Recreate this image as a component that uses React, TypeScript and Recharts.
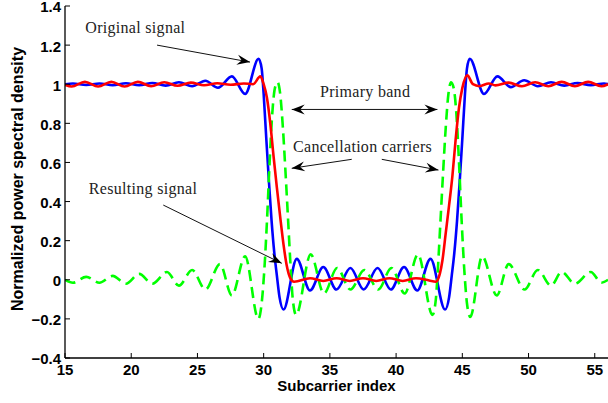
import React from 'react';
import { LineChart, Line, XAxis, YAxis, ReferenceLine, ReferenceDot } from 'recharts';

// ---------- data ----------
const xTicks = [15, 20, 25, 30, 35, 40, 45, 50, 55];
const yTicks = [-0.4, -0.2, 0, 0.2, 0.4, 0.6, 0.8, 1, 1.2, 1.4];

const originalX = [15, 15.6, 16.6, 17.6, 18.6, 19.6, 20.6, 21.6, 22.6, 23.6, 24.6, 25.6, 26.55, 27.6, 28.6, 29.62, 29.85, 30.0, 30.2, 30.4, 30.6, 30.8, 31.0, 31.2, 31.5, 32.5, 33.5, 34.5, 35.5, 36.55, 37.55, 38.6, 39.6, 40.6, 41.6, 42.6, 43.7, 44.0, 44.2, 44.4, 44.6, 44.8, 45.0, 45.2, 45.35, 45.56, 46.64, 47.65, 48.66, 49.67, 50.7, 51.7, 52.7, 53.7, 54.7, 55.7, 56];
const originalY = [1.0, 1.004, 0.996, 1.004, 0.995, 1.005, 0.995, 1.006, 0.993, 1.01, 0.99, 1.018, 0.982, 1.04, 0.95, 1.13, 1.08, 0.95, 0.72, 0.5, 0.3, 0.14, 0.02, -0.09, -0.152, 0.107, -0.055, 0.065, -0.05, 0.06, -0.05, 0.06, -0.05, 0.065, -0.055, 0.107, -0.152, -0.09, 0.02, 0.14, 0.3, 0.5, 0.72, 0.95, 1.08, 1.13, 0.95, 1.04, 0.985, 1.02, 0.99, 1.01, 0.993, 1.006, 0.995, 1.004, 1.0];

const cancelX = [15, 15.6, 16.6, 17.6, 18.6, 19.6, 20.6, 21.6, 22.7, 23.6, 24.6, 25.6, 26.7, 27.6, 28.6, 29.6, 29.85, 30.05, 30.25, 30.45, 30.65, 30.85, 31.05, 31.25, 31.45, 31.65, 31.85, 32.05, 32.2, 32.45, 33.55, 34.55, 35.55, 36.55, 37.6, 38.65, 39.65, 40.65, 41.65, 42.75, 43.0, 43.15, 43.35, 43.55, 43.75, 43.95, 44.15, 44.35, 44.55, 44.75, 44.95, 45.15, 45.35, 45.6, 46.5, 47.6, 48.5, 49.7, 50.7, 51.7, 52.5, 53.5, 54.7, 55.5, 56];
const cancelY = [0.0, -0.015, 0.015, -0.015, 0.02, -0.02, 0.03, -0.02, 0.04, -0.03, 0.05, -0.05, 0.08, -0.08, 0.12, -0.2, -0.12, 0.05, 0.3, 0.6, 0.85, 0.98, 1.01, 0.95, 0.78, 0.55, 0.3, 0.05, -0.1, -0.18, 0.13, -0.07, 0.06, -0.05, 0.05, -0.05, 0.06, -0.07, 0.13, -0.18, -0.1, 0.05, 0.3, 0.55, 0.78, 0.95, 1.01, 0.98, 0.85, 0.6, 0.3, 0.05, -0.12, -0.19, 0.12, -0.08, 0.08, -0.05, 0.05, -0.03, 0.04, -0.02, 0.04, -0.015, 0.0];

const resultX = [15, 15.5, 16.5, 17.5, 18.5, 19.5, 20.5, 21.5, 22.5, 23.5, 24.5, 25.5, 26.5, 27.5, 28.5, 29.2, 29.75, 30.0, 30.25, 30.5, 30.75, 31.0, 31.25, 31.5, 31.75, 32.0, 32.3, 33.5, 34.5, 35.5, 36.5, 37.5, 38.5, 39.5, 40.5, 41.5, 42.5, 43.0, 43.3, 43.5, 43.75, 44.0, 44.25, 44.5, 44.75, 45.0, 45.38, 45.8, 46.3, 47.0, 47.5, 48.5, 49.5, 50.5, 51.5, 52.5, 53.5, 54.5, 55.5, 56];
const resultY = [0.997, 0.988, 1.012, 0.988, 1.012, 0.988, 1.012, 0.99, 1.01, 0.992, 1.008, 0.995, 1.005, 0.997, 1.004, 1.0, 1.04, 1.0, 0.93, 0.8, 0.63, 0.47, 0.32, 0.18, 0.07, 0.01, -0.01, 0.008, -0.006, 0.008, -0.006, 0.008, -0.006, 0.008, -0.006, 0.008, -0.004, -0.01, 0.03, 0.1, 0.24, 0.38, 0.53, 0.72, 0.88, 0.98, 1.045, 1.0, 0.99, 1.004, 0.994, 1.008, 0.99, 1.01, 0.99, 1.012, 0.99, 1.012, 0.99, 1.0];

// annotation anchors (data coordinates)
const noteLabels = ['Original signal', 'Primary band', 'Cancellation carriers', 'Resulting signal'];
const noteX = [20.31, 37.66, 37.47, 20.89];
const noteY = [1.26, 0.933, 0.655, 0.439];

// arrows: [x1, y1, x2(tip), y2(tip), doubleHeaded]
const arrows: [number, number, number, number, boolean][] = [
  [21.95, 1.2, 28.97, 1.113, false],
  [32.12, 0.871, 43.12, 0.871, true],
  [36.65, 0.616, 32.12, 0.57, false],
  [38.92, 0.616, 43.2, 0.561, false],
  [22.42, 0.382, 31.37, 0.084, false],
];

const toPts = (xs: number[], ys: number[]) => xs.map((x, i) => ({ x, y: ys[i] }));
const originalData = toPts(originalX, originalY);
const cancelData = toPts(cancelX, cancelY);
const resultData = toPts(resultX, resultY);

// ---------- styling ----------
const TICK_LEN = 5;
const TICK_FONT = { fontFamily: '"Liberation Sans", Arial, sans-serif', fontWeight: 700, fontSize: 15, fill: '#000' };
const YLABEL_FONT = { ...TICK_FONT, fontSize: 16 };
const NOTE_FONT = { fontFamily: '"Liberation Serif", "Times New Roman", serif', fontSize: 16, fill: '#222', letterSpacing: 0.3 };

const fmtY = (v: number) => {
  if (Math.abs(v) < 1e-9) return '0';
  const s = String(Math.round(Math.abs(v) * 10) / 10);
  return v < 0 ? '\u2212' + s : s;
};

const X_MARGIN = 6;
const Y_MARGIN = 4;

const BottomTick = (p: any) => {
  const { x, y, payload } = p;
  const ay = y - X_MARGIN;
  return (
    <g>
      <line x1={x} y1={ay} x2={x} y2={ay - TICK_LEN} stroke="#000" strokeWidth={1} />
      <text x={x} y={y} dy="0.71em" textAnchor="middle" style={TICK_FONT}>{payload.value}</text>
    </g>
  );
};

const LeftTick = (p: any) => {
  const { x, y, payload } = p;
  const ax = x + Y_MARGIN;
  return (
    <g>
      <line x1={ax} y1={y} x2={ax + TICK_LEN} y2={y} stroke="#000" strokeWidth={1} />
      <text x={x} y={y} dy="0.43em" textAnchor="end" style={TICK_FONT}>{fmtY(payload.value)}</text>
    </g>
  );
};

const TopTick = (p: any) => {
  const { x, y } = p;
  return <line x1={x} y1={y} x2={x} y2={y + TICK_LEN} stroke="#000" strokeWidth={1} />;
};

const RightTick = (p: any) => {
  const { x, y } = p;
  return <line x1={x} y1={y} x2={x - TICK_LEN} y2={y} stroke="#000" strokeWidth={1} />;
};

const head = (tx: number, ty: number, fx: number, fy: number) => {
  const dx = tx - fx;
  const dy = ty - fy;
  const len = Math.sqrt(dx * dx + dy * dy) || 1;
  const ux = dx / len;
  const uy = dy / len;
  const nx = -uy;
  const ny = ux;
  const L = 13;
  const W = 5;
  const bx = tx - L * ux;
  const by = ty - L * uy;
  const mx = tx - 0.65 * L * ux;
  const my = ty - 0.65 * L * uy;
  return `M${tx},${ty} L${bx + W * nx},${by + W * ny} L${mx},${my} L${bx - W * nx},${by - W * ny} Z`;
};

const makeArrow = (both: boolean) => (p: any) => {
  const { x1, y1, x2, y2 } = p;
  return (
    <g>
      <line x1={x1} y1={y1} x2={x2} y2={y2} stroke="#111" strokeWidth={1} />
      <path d={head(x2, y2, x1, y1)} fill="#000" />
      {both ? <path d={head(x1, y1, x2, y2)} fill="#000" /> : null}
    </g>
  );
};

const makeNote = (text: string) => (p: any) => (
  <text x={p.cx} y={p.cy} textAnchor="middle" style={NOTE_FONT}>{text}</text>
);

export default function App() {
  return (
    <div style={{ position: 'absolute', left: 0, top: 0, width: 608, height: 403, background: '#fff' }}>
      <LineChart width={608} height={403} margin={{ top: 6, right: 0, bottom: 0, left: 0 }}>
        <XAxis
          dataKey="x"
          type="number"
          domain={[15, 56]}
          ticks={xTicks}
          allowDataOverflow
          height={45}
          tickSize={0}
          tickMargin={X_MARGIN}
          tickLine={false}
          tick={<BottomTick />}
          axisLine={{ stroke: '#000', strokeWidth: 1.3 }}
          interval={0}
          label={{
            content: (lp: any) => {
              const vb = lp.viewBox;
              return (
                <text x={vb.x + vb.width / 2} y={vb.y + 33} textAnchor="middle" style={TICK_FONT}>
                  Subcarrier index
                </text>
              );
            },
          }}
        />
        <XAxis
          xAxisId="top"
          orientation="top"
          type="number"
          domain={[15, 56]}
          ticks={xTicks}
          height={0}
          tickSize={0}
          tickMargin={0}
          tickLine={false}
          tick={<TopTick />}
          axisLine={{ stroke: '#000', strokeWidth: 1.3 }}
          interval={0}
        />
        <YAxis
          type="number"
          domain={[-0.4, 1.4]}
          ticks={yTicks}
          allowDataOverflow
          width={65}
          tickSize={0}
          tickMargin={Y_MARGIN}
          tickLine={false}
          tick={<LeftTick />}
          axisLine={{ stroke: '#000', strokeWidth: 1.3 }}
          interval={0}
          label={{
            content: (lp: any) => {
              const vb = lp.viewBox;
              const cx = vb.x + 17;
              const cy = vb.y + vb.height / 2 - 3;
              return (
                <text x={cx} y={cy} textAnchor="middle" dominantBaseline="central" transform={`rotate(-90 ${cx} ${cy})`} style={YLABEL_FONT}>
                  Normalized power spectral density
                </text>
              );
            },
          }}
        />
        <YAxis
          yAxisId="right"
          orientation="right"
          type="number"
          domain={[-0.4, 1.4]}
          ticks={yTicks}
          width={0}
          tickSize={0}
          tickMargin={0}
          tickLine={false}
          tick={<RightTick />}
          axisLine={{ stroke: '#000', strokeWidth: 1.3 }}
          interval={0}
        />
        <Line data={originalData} dataKey="y" type="monotone" stroke="#0000ff" strokeWidth={2.6} dot={false} isAnimationActive={false} />
        <Line data={cancelData} dataKey="y" type="monotone" stroke="#00ff00" strokeWidth={2.6} strokeDasharray="11 6" dot={false} isAnimationActive={false} />
        <Line data={resultData} dataKey="y" type="monotone" stroke="#ff0000" strokeWidth={2.6} dot={false} isAnimationActive={false} />
        {arrows.map((a, i) => (
          <ReferenceLine
            key={'a' + i}
            segment={[{ x: a[0], y: a[1] }, { x: a[2], y: a[3] }]}
            shape={makeArrow(a[4])}
          />
        ))}
        {noteLabels.map((t, i) => (
          <ReferenceDot key={'n' + i} x={noteX[i]} y={noteY[i]} r={1} shape={makeNote(t)} />
        ))}
      </LineChart>
    </div>
  );
}
